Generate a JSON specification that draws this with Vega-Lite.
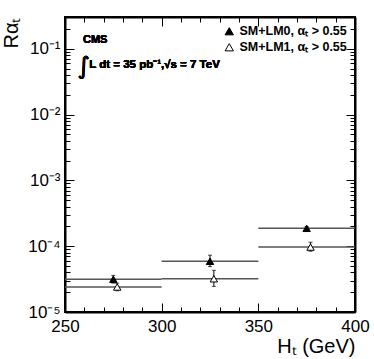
{
  "$schema": "https://vega.github.io/schema/vega-lite/v6.json",
  "width": 290,
  "height": 295,
  "autosize": {"type": "none"},
  "padding": {"left": 65, "top": 17, "right": 19, "bottom": 47},
  "background": "white",
  "config": {
    "font": "Liberation Sans",
    "view": {"stroke": "black", "strokeWidth": 2},
    "axis": {
      "domainColor": "black",
      "domainWidth": 2,
      "tickColor": "black",
      "tickWidth": 1,
      "grid": false,
      "labelFont": "Liberation Sans",
      "labelColor": "black",
      "titleFont": "Liberation Sans",
      "titleColor": "black",
      "titleFontWeight": "normal"
    }
  },
  "data": {
    "values": [
      {"series": "SM+LM0, αₜ > 0.55", "ht": 275, "lo_bin": 250, "hi_bin": 300, "r": 3.15e-5, "r_lo": 2.75e-5, "r_hi": 3.6e-5},
      {"series": "SM+LM0, αₜ > 0.55", "ht": 325, "lo_bin": 300, "hi_bin": 350, "r": 5.9e-5, "r_lo": 4.9e-5, "r_hi": 7.3e-5},
      {"series": "SM+LM0, αₜ > 0.55", "ht": 375, "lo_bin": 350, "hi_bin": 400, "r": 1.87e-4, "r_lo": 1.76e-4, "r_hi": 1.99e-4},
      {"series": "SM+LM1, αₜ > 0.55", "ht": 277, "lo_bin": 250, "hi_bin": 300, "r": 2.4e-5, "r_lo": 2.1e-5, "r_hi": 2.75e-5},
      {"series": "SM+LM1, αₜ > 0.55", "ht": 327, "lo_bin": 300, "hi_bin": 350, "r": 3.2e-5, "r_lo": 2.45e-5, "r_hi": 4.3e-5},
      {"series": "SM+LM1, αₜ > 0.55", "ht": 377, "lo_bin": 350, "hi_bin": 400, "r": 9.7e-5, "r_lo": 8.4e-5, "r_hi": 1.15e-4}
    ]
  },
  "resolve": {"axis": {"x": "independent", "y": "independent"}},
  "layer": [
    {
      "mark": {"type": "rule", "color": "#555", "strokeWidth": 1.5},
      "encoding": {
        "x": {
          "field": "lo_bin", "type": "quantitative",
          "scale": {"domain": [250, 400], "nice": false, "zero": false},
          "axis": {
            "orient": "bottom",
            "values": [250,260,270,280,290,300,310,320,330,340,350,360,370,380,390,400],
            "labelExpr": "datum.value % 50 == 0 ? datum.label : ''",
            "tickSize": {"condition": {"test": "datum.value % 50 == 0", "value": -9}, "value": -5},
            "labelPadding": 15,
            "labelFontSize": 17,
            "labelFlush": false,
            "title": "Hₜ (GeV)",
            "titleFontSize": 20,
            "titleAnchor": "end",
            "titlePadding": 2
          }
        },
        "x2": {"field": "hi_bin"},
        "y": {
          "field": "r", "type": "quantitative",
          "scale": {"type": "log", "domain": [1e-5, 0.305], "nice": false},
          "axis": {
            "orient": "left",
            "values": [1e-5,2e-5,3e-5,4e-5,5e-5,6e-5,7e-5,8e-5,9e-5,1e-4,2e-4,3e-4,4e-4,5e-4,6e-4,7e-4,8e-4,9e-4,1e-3,2e-3,3e-3,4e-3,5e-3,6e-3,7e-3,8e-3,9e-3,1e-2,2e-2,3e-2,4e-2,5e-2,6e-2,7e-2,8e-2,9e-2,0.1,0.2,0.3],
            "labelExpr": "abs(datum.value/0.1-1)<1e-6 ? '10⁻¹' : abs(datum.value/0.01-1)<1e-6 ? '10⁻²' : abs(datum.value/0.001-1)<1e-6 ? '10⁻³' : abs(datum.value/0.0001-1)<1e-6 ? '10⁻⁴' : abs(datum.value/0.00001-1)<1e-6 ? '10⁻⁵' : ''",
            "tickSize": {"condition": {"test": "abs(log(datum.value)/LN10 - round(log(datum.value)/LN10)) < 1e-6", "value": -9}, "value": -5},
            "labelPadding": 14,
            "labelFontSize": 17,
            "labelFlush": false,
            "title": "Rαₜ",
            "titleFontSize": 20,
            "titleAnchor": "end",
            "titlePadding": 6
          }
        }
      }
    },
    {
      "mark": {"type": "errorbar", "ticks": {"size": 4, "color": "black"}, "rule": {"color": "black", "strokeWidth": 1}},
      "encoding": {
        "x": {"field": "ht", "type": "quantitative", "axis": null},
        "y": {"field": "r_lo", "type": "quantitative", "axis": null},
        "y2": {"field": "r_hi"}
      }
    },
    {
      "mark": {"type": "point", "shape": "triangle-up", "filled": true, "stroke": "black", "strokeWidth": 1, "size": 55, "opacity": 1},
      "encoding": {
        "x": {
          "field": "ht", "type": "quantitative",
          "axis": {
            "orient": "top",
            "values": [250,260,270,280,290,300,310,320,330,340,350,360,370,380,390,400],
            "labels": false,
            "tickSize": {"condition": {"test": "datum.value % 50 == 0", "value": -9}, "value": -5},
            "title": null
          }
        },
        "y": {
          "field": "r", "type": "quantitative",
          "axis": {
            "orient": "right",
            "values": [1e-5,2e-5,3e-5,4e-5,5e-5,6e-5,7e-5,8e-5,9e-5,1e-4,2e-4,3e-4,4e-4,5e-4,6e-4,7e-4,8e-4,9e-4,1e-3,2e-3,3e-3,4e-3,5e-3,6e-3,7e-3,8e-3,9e-3,1e-2,2e-2,3e-2,4e-2,5e-2,6e-2,7e-2,8e-2,9e-2,0.1,0.2,0.3],
            "labels": false,
            "tickSize": {"condition": {"test": "abs(log(datum.value)/LN10 - round(log(datum.value)/LN10)) < 1e-6", "value": -9}, "value": -5},
            "title": null
          }
        },
        "fill": {
          "field": "series", "type": "nominal",
          "scale": {"domain": ["SM+LM0, αₜ > 0.55", "SM+LM1, αₜ > 0.55"], "range": ["black", "white"]},
          "legend": {
            "title": null,
            "orient": "top-right",
            "offset": 6,
            "symbolType": "triangle-up",
            "symbolSize": 70,
            "symbolStrokeColor": "black",
            "symbolStrokeWidth": 1,
            "labelFont": "Liberation Sans",
            "labelFontWeight": "bold",
            "labelFontSize": 12.5,
            "labelColor": "black",
            "rowPadding": 3,
            "padding": 2
          }
        }
      }
    },
    {
      "mark": {"type": "text", "text": "CMS", "font": "Liberation Sans", "fontWeight": "bold", "fontSize": 11, "align": "left", "baseline": "middle", "color": "black"},
      "encoding": {
        "x": {"datum": 259.3, "type": "quantitative", "axis": null},
        "y": {"datum": 0.137, "type": "quantitative", "axis": null}
      }
    },
    {
      "mark": {"type": "text", "text": "∫", "font": "DejaVu Sans", "fontSize": 24, "align": "left", "baseline": "middle", "color": "black"},
      "encoding": {
        "x": {"datum": 256.5, "type": "quantitative", "axis": null},
        "y": {"datum": 0.0534, "type": "quantitative", "axis": null}
      }
    },
    {
      "mark": {"type": "text", "text": "L dt = 35 pb⁻¹,√s = 7 TeV", "font": "Liberation Sans", "fontWeight": "bold", "fontSize": 11.5, "align": "left", "baseline": "middle", "color": "black"},
      "encoding": {
        "x": {"datum": 262.5, "type": "quantitative", "axis": null},
        "y": {"datum": 0.0573, "type": "quantitative", "axis": null}
      }
    }
  ]
}
